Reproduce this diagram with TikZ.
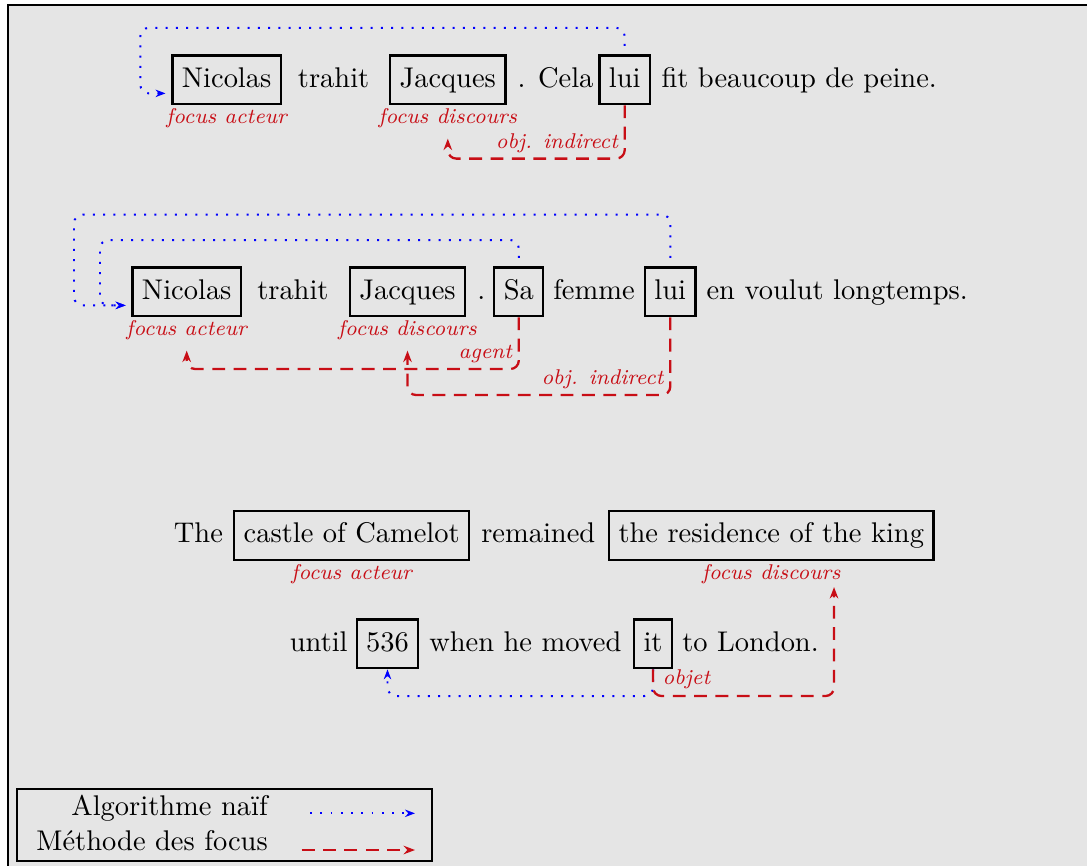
\documentclass[tikz,border=0pt]{standalone}
\usetikzlibrary{arrows.meta}
\definecolor{focred}{RGB}{200,14,22}
\definecolor{naiveblue}{RGB}{0,0,255}
\definecolor{paper}{RGB}{229,229,229}
\newcommand{\lblfont}{\fontsize{7.5pt}{9pt}\selectfont\itshape}
\begin{document}
\begin{tikzpicture}[x=0.012346cm, y=-0.012346cm,
  wbox/.style={draw, thick, inner sep=3.33pt, minimum height=6mm,
               text height=7pt, text depth=2pt, anchor=base},
  word/.style={inner sep=0pt, anchor=base west},
  flabel/.style={text=focred, font=\lblfont, inner sep=1pt, anchor=north},
  rlabel/.style={text=focred, font=\lblfont, inner sep=0pt,
                 anchor=base east, xshift=-2pt, yshift=3.6pt},
  naive/.style={naiveblue, line width=0.7pt, dash pattern=on 0.7pt off 2.9pt,
                rounded corners=3pt, shorten <=3pt, shorten >=2pt,
                -{Stealth[length=3.5pt,width=2.6pt]}},
  focus/.style={focred, thick, dash pattern=on 4.5pt off 3pt,
                rounded corners=3pt, -{Stealth[length=4pt,width=3pt]}},
  legtext/.style={inner sep=0pt, anchor=base east}]

\useasboundingbox (0,0) rectangle (1087,865);
\clip (0,0) rectangle (1087,865);
\draw[fill=paper, line width=0.5pt] (7.8,5.2) rectangle (1300,1100);

% ---- Sentence 1
\node[wbox] (nic1) at (226.6,87) {Nicolas};
\node[word] (w1a) at (297.4,87) {trahit};
\node[wbox] (jac1) at (447.8,87) {Jacques};
\node[word] (w1b) at (517,87) {. Cela};
\node[wbox] (lui1) at (624.7,87) {lui};
\node[word] (w1c) at (661,87) {fit beaucoup de peine.};
\node[flabel] (fa1) at (nic1.south) {focus acteur};
\node[flabel] (fd1) at (jac1.south) {focus discours};

\draw[naive] (lui1.north) |- (140.3,27.8) |- ([yshift=4.2pt]nic1.south west);
\draw[focus] (lui1.south) -- (lui1.south |- 0,158.6)
  node[rlabel] (oi1) {obj. indirect} -| ([yshift=-2.5pt]fd1.south);

% ---- Sentence 2
\node[wbox] (nic2) at (186.7,299) {Nicolas};
\node[word] (w2a) at (256.7,299) {trahit};
\node[wbox] (jac2) at (407.5,299) {Jacques};
\node[word] (w2b) at (476.7,299) {.};
\node[wbox] (sa2) at (518.8,299) {Sa};
\node[word] (w2c) at (552.7,299) {femme};
\node[wbox] (lui2) at (670.3,299) {lui};
\node[word] (w2d) at (706,299) {en voulut longtemps.};
\node[flabel] (fa2) at (nic2.south) {focus acteur};
\node[flabel] (fd2) at (jac2.south) {focus discours};

\draw[naive] (lui2.north) |- (74,214.7) |- ([yshift=4.2pt]nic2.south west);
\draw[naive] (sa2.north) |- (100,240) |- ([yshift=4.2pt]nic2.south west);
\draw[focus] (sa2.south) -- (sa2.south |- 0,369)
  node[rlabel] (ag2) {agent} -| ([yshift=-2.5pt]fa2.south);
\draw[focus] (lui2.south) -- (lui2.south |- 0,395)
  node[rlabel] (oi2) {obj. indirect} -| ([yshift=-2.5pt]fd2.south);

% ---- Sentence 3
\node[word] (w3a) at (173.3,542.5) {The};
\node[wbox] (cas3) at (351.7,542.5) {castle of Camelot};
\node[word] (w3b) at (480.7,542.5) {remained};
\node[wbox] (res3) at (771.3,542.5) {the residence of the king};
\node[flabel] (fa3) at (cas3.south) {focus acteur};
\node[flabel] (fd3) at (res3.south) {focus discours};

\node[word] (w4a) at (289.3,651) {until};
\node[wbox] (n536) at (387.5,651) {536};
\node[word] (w4b) at (428.7,651) {when he moved};
\node[wbox] (it4) at (653,651) {it};
\node[word] (w4c) at (681.7,651) {to London.};

\draw[naive, shorten <=0pt, shorten >=0pt] (it4.south) -- (it4.south |- 0,696) -| (n536.south);
\draw[focus] (it4.south) -- (it4.south |- 0,696)
  node[text=focred, font=\lblfont, inner sep=0pt, anchor=base west,
       xshift=3pt, yshift=3.9pt] (ob4) {objet}
  -| ([xshift=-3.5pt]fd3.south east);

% ---- Legend
\node[draw, thick, inner sep=0pt, minimum width=146pt, minimum height=25.3pt]
  (legend) at (224.5,825) {};
\node[legtext] (lg1) at (268.3,815) {Algorithme naïf};
\node[legtext] (lg2) at (268.3,850) {Méthode des focus};
\coordinate (lb1) at (310,813.3);
\coordinate (lb2) at (415,813.3);
\coordinate (lr1) at (301.7,850);
\coordinate (lr2) at (415,850);
\draw[naive, shorten <=0pt, shorten >=0pt] (lb1) -- (lb2);
\draw[focus] (lr1) -- (lr2);
\end{tikzpicture}
\end{document}
